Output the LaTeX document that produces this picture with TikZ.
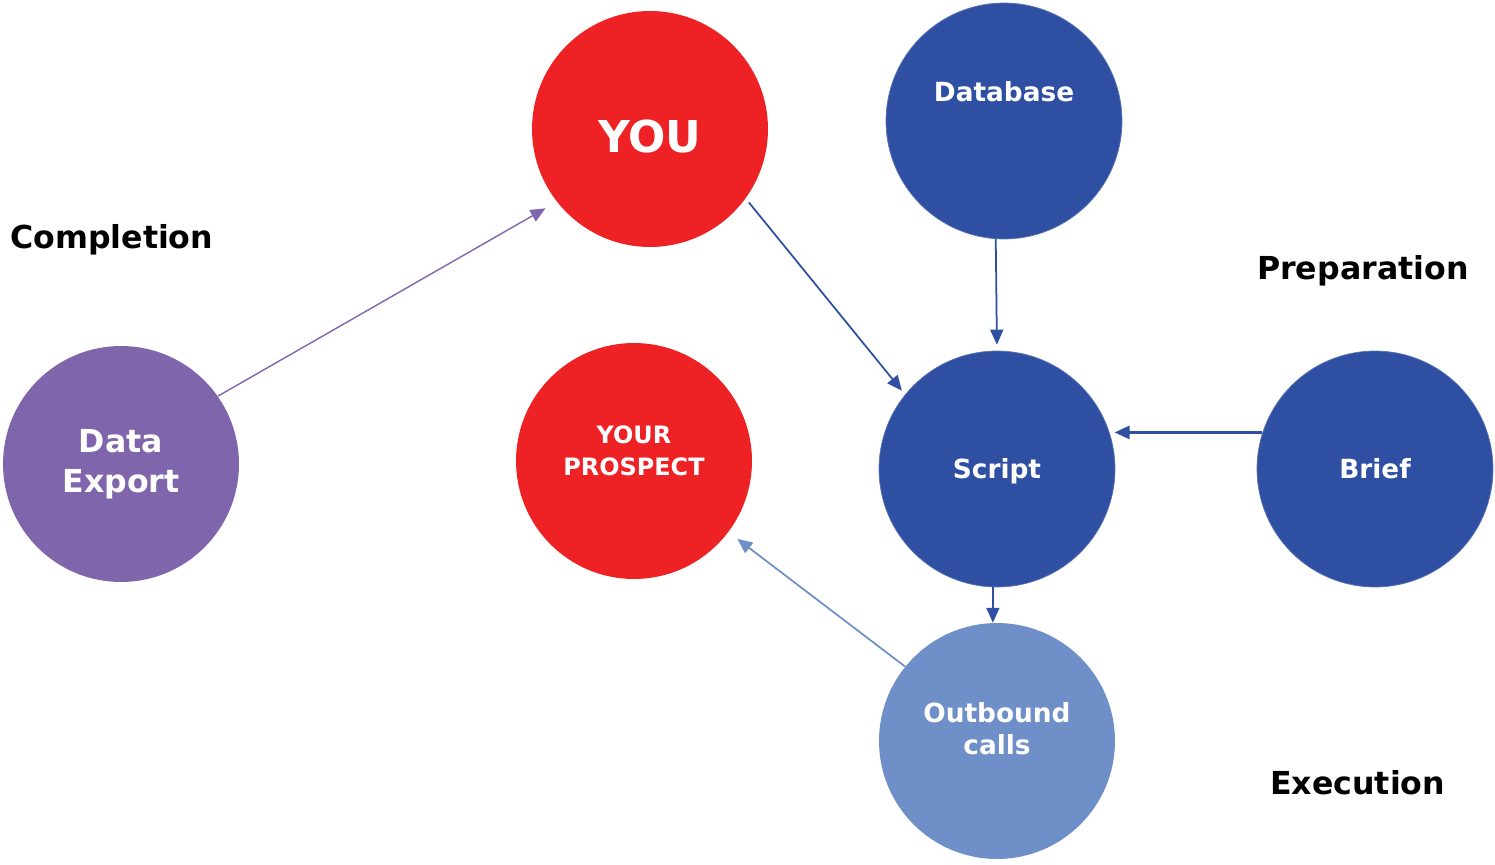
\documentclass[tikz,border=0pt]{standalone}
\usepackage{fontspec}
\setmainfont{DejaVu Sans}
\usetikzlibrary{arrows.meta}
\definecolor{youred}{HTML}{EE2224}
\definecolor{dbblue}{HTML}{2F50A2}
\definecolor{expurple}{HTML}{7F65AB}
\definecolor{callblue}{HTML}{6F8FC8}
\newcommand{\lift}[2]{\raisebox{#1}[\height][\depth]{#2}}
\begin{document}
\begin{tikzpicture}[x=0.02cm,y=-0.02cm,
  bubble/.style={circle,minimum size=4.72cm,inner sep=0pt,text=white,align=center,font=\bfseries\fontsize{15}{18}\selectfont},
  phase/.style={font=\bfseries\fontsize{18}{21}\selectfont,anchor=west},
  link/.style={-{Triangle[length=0.3cm,width=0.26cm]},line width=1pt}]
\useasboundingbox (0,0) rectangle (1495,865);
\node[bubble,fill=youred,font=\bfseries\fontsize{25}{30}\selectfont] (you) at (650,129) {\lift{-4pt}{YOU}};
\node[bubble,fill=dbblue,draw=dbblue!80!white] (dbase) at (1004,121) {};
\node[text=white,font=\bfseries\fontsize{15}{18}\selectfont] (dbtext) at (1004,92) {Database};
\node[bubble,fill=dbblue,draw=dbblue!80!white] (script) at (997,469) {\lift{-1.5pt}{Script}};
\node[bubble,fill=dbblue,draw=dbblue!80!white] (brief) at (1375,469) {Brief};
\node[bubble,fill=youred,font=\bfseries\fontsize{13.6}{18}\selectfont] (prospect) at (634,461) {\lift{4.5pt}{\begin{tabular}{c}YOUR\\PROSPECT\end{tabular}}};
\node[bubble,fill=expurple,font=\bfseries\fontsize{18}{23}\selectfont] (dexp) at (121,464) {Data\\Export};
\node[bubble,fill=callblue] (outbound) at (997,741) {\lift{5pt}{\begin{tabular}{c}Outbound\\[0.5pt]calls\end{tabular}}};
\node[phase] (completion) at (4,240) {Completion};
\node[phase] (preparation) at (1251,271) {Preparation};
\node[phase] (execution) at (1264,783) {Execution};
\draw[link,expurple,line width=0.8pt,shorten >=0.26cm] (dexp.35) -- (you.218);
\draw[link,dbblue,shorten <=0.1cm,shorten >=0.1cm] (you.-36) -- (script.141);
\draw[link,dbblue,shorten >=0.12cm] (dbase.-94) -- (script.90);
\draw[link,dbblue,line width=1.5pt,shorten >=0.1cm] (brief.162) -- (script.18);
\draw[link,dbblue] (script.-92) -- (outbound.92);
\draw[link,callblue,shorten >=0.22cm] (outbound.141) -- (prospect.-37);
\end{tikzpicture}
\end{document}
